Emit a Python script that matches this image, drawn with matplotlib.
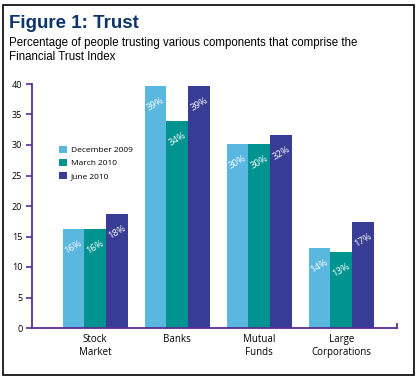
import matplotlib
matplotlib.use("Agg")
import matplotlib.pyplot as plt
from matplotlib.patches import Rectangle
import numpy as np

categories = ["Stock\nMarket", "Banks", "Mutual\nFunds", "Large\nCorporations"]
series_names = ["December 2009", "March 2010", "June 2010"]
dec_2009 = [16.2, 39.7, 30.2, 13.1]
mar_2010 = [16.2, 33.9, 30.2, 12.4]
jun_2010 = [18.7, 39.7, 31.7, 17.4]
labels_dec = ["16%", "39%", "30%", "14%"]
labels_mar = ["16%", "34%", "30%", "13%"]
labels_jun = ["18%", "39%", "32%", "17%"]
yticks = [0, 5, 10, 15, 20, 25, 30, 35, 40]

colors = ["#5ab7e0", "#009390", "#383c94"]
axis_color = "#5a2d91"

fig = plt.figure(figsize=(4.2, 3.8), dpi=100)
fig.patch.set_facecolor("white")

# border
fig.add_artist(Rectangle((3/420, 1-375/380), 411/420, 370/380, transform=fig.transFigure,
                         fill=False, edgecolor="black", linewidth=1.2))

fig.text(9/420, 1-28/380, "Figure 1: Trust", fontsize=13.5, fontweight="bold",
         color="#0c356b", family="Liberation Sans", va="baseline", ha="left")
fig.text(9/420, 1-46/380, "Percentage of people trusting various components that comprise the",
         fontsize=8.3, color="black", family="Liberation Sans", va="baseline", ha="left")
fig.text(9/420, 1-60/380, "Financial Trust Index",
         fontsize=8.3, color="black", family="Liberation Sans", va="baseline", ha="left")

ax = fig.add_axes([32/420, 1-328/380, 365/420, 244/380])
x = np.arange(len(categories))
w = 0.265
all_series = [dec_2009, mar_2010, jun_2010]
all_labels = [labels_dec, labels_mar, labels_jun]
for i, (vals, labs) in enumerate(zip(all_series, all_labels)):
    xs = x + (i - 1) * w
    ax.bar(xs, vals, width=w, color=colors[i], label=series_names[i], linewidth=0)
    for xi, v, lab in zip(xs, vals, labs):
        ax.annotate(lab, (xi, v), xytext=(0, -13), textcoords="offset points",
                    ha="center", va="center", rotation=30, color="white",
                    fontsize=6.8, family="Open Sans")

ax.set_xlim(-0.77, 3.68)
ax.set_ylim(0, 40)
ax.set_yticks(yticks)
ax.set_xticks(x)
ax.set_xticklabels(categories, fontsize=7, family="Open Sans", linespacing=1.25)
for t in ax.get_yticklabels():
    t.set_fontsize(6.5)
    t.set_family("Open Sans")
ax.tick_params(axis="y", length=4, width=1.2, color=axis_color, pad=3)
ax.tick_params(axis="x", length=0, pad=4)
ax.spines["top"].set_visible(False)
ax.spines["right"].set_visible(False)
ax.spines["left"].set_color(axis_color)
ax.spines["bottom"].set_color(axis_color)
ax.spines["left"].set_linewidth(1.3)
ax.spines["bottom"].set_linewidth(1.3)
# small end tick at right of x axis
ax.plot([1, 1], [0, 0.015], transform=ax.transAxes, color=axis_color, lw=1.3, clip_on=False)

leg = ax.legend(loc="upper left", bbox_to_anchor=(55/420, 1-142/380),
                bbox_transform=fig.transFigure, frameon=False,
                prop={"family": "Open Sans", "size": 6},
                handlelength=0.9, handleheight=0.9, handletextpad=0.5,
                labelspacing=0.55, borderpad=0)

fig.savefig("out.png", dpi=100, facecolor="white")
